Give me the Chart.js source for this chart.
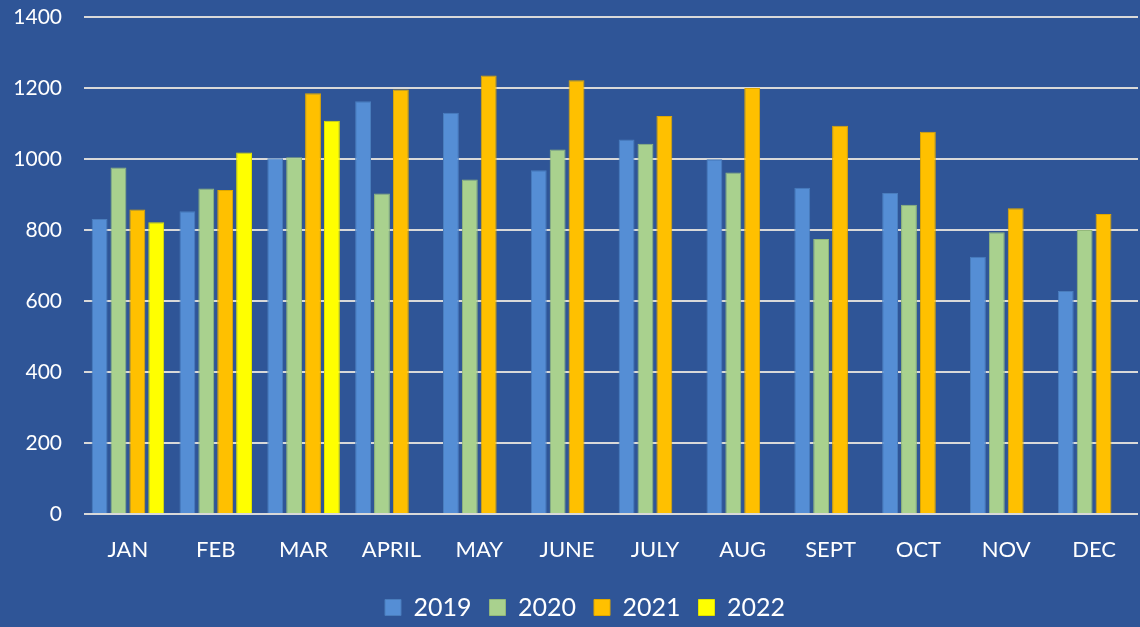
<!DOCTYPE html>
<html>
<head>
<meta charset="utf-8">
<script src="https://cdn.jsdelivr.net/npm/chart.js@4/dist/chart.umd.min.js"></script>
<style>
html,body{margin:0;padding:0;background:#2F5597;}
#wrap{width:1140px;height:627px;position:relative;}
</style>
</head>
<body>
<div id="wrap"><canvas id="c"></canvas></div>
<script>
const categories = ["JAN","FEB","MAR","APRIL","MAY","JUNE","JULY","AUG","SEPT","OCT","NOV","DEC"];
const seriesNames = ["2019","2020","2021","2022"];
const values2019 = [831, 853, 1002, 1163, 1130, 968, 1055, 999, 919, 904, 725, 628];
const values2020 = [976, 917, 1005, 903, 942, 1027, 1043, 962, 775, 871, 794, 800];
const values2021 = [858, 913, 1185, 1196, 1235, 1222, 1121, 1200, 1094, 1077, 861, 845];
const values2022 = [822, 1018, 1108, null, null, null, null, null, null, null, null, null];
const yTicks = [0, 200, 400, 600, 800, 1000, 1200, 1400];

const fills = ["#558ED5", "#A9D18E", "#FFC000", "#FFFF00"];
const borders = ["#4A7DBD", "#93B87A", "#E0A800", "#E0E000"];
const allValues = [values2019, values2020, values2021, values2022];

const FONT = "Lato, 'Open Sans', sans-serif";

const legendShift = {
  id: "legendShift",
  afterLayout(chart) {
    const lg = chart.legend;
    if (lg) { lg.left += 16; lg.right += 16; lg.top += 3; lg.bottom += 3; }
  }
};

new Chart(document.getElementById("c"), {
  type: "bar",
  data: {
    labels: categories,
    datasets: seriesNames.map((n, i) => ({
      label: n,
      data: allValues[i],
      backgroundColor: fills[i],
      borderColor: borders[i],
      borderWidth: 1,
      categoryPercentage: 0.86,
      barPercentage: 0.84
    }))
  },
  plugins: [legendShift],
  options: {
    responsive: true,
    maintainAspectRatio: false,
    animation: false,
    layout: { padding: { top: 17, right: 2, left: 0, bottom: 0 } },
    plugins: {
      tooltip: { enabled: false },
      legend: {
        position: "bottom",
        labels: {
          color: "#FFFFFF",
          font: { family: FONT, size: 25 },
          boxWidth: 16,
          boxHeight: 16,
          padding: 18
        }
      }
    },
    scales: {
      x: {
        grid: { display: false },
        border: { display: false },
        ticks: {
          color: "#FFFFFF",
          font: { family: FONT, size: 22 },
          padding: 15,
          maxRotation: 0,
          autoSkip: false
        },
        afterFit: (s) => { s.height = 60; }
      },
      y: {
        min: 0,
        max: 1400,
        afterBuildTicks: (s) => { s.ticks = yTicks.map(v => ({ value: v })); },
        grid: { color: "#D9D9D9", lineWidth: 2, drawTicks: false },
        border: { display: false },
        ticks: {
          color: "#FFFFFF",
          font: { family: FONT, size: 21 },
          padding: 22,
          callback: (v) => String(v)
        },
        afterFit: (s) => { s.width = 84; s.paddingTop = 0; s.paddingBottom = 0; }
      }
    }
  }
});
</script>
</body>
</html>
